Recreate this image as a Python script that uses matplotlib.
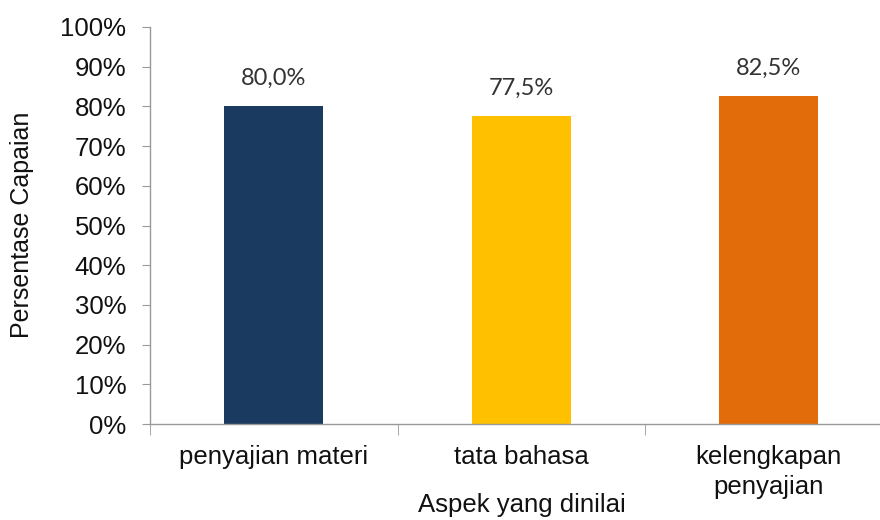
import matplotlib
matplotlib.use("Agg")
import matplotlib.pyplot as plt
from matplotlib.ticker import FixedLocator, PercentFormatter

categories = ["penyajian materi", "tata bahasa", "kelengkapan\npenyajian"]
values = [80.0, 77.5, 82.5]
colors = ["#1B3A5F", "#FFC000", "#E36C0A"]
value_labels = ["80,0%", "77,5%", "82,5%"]

plt.rcParams['font.family'] = ['Liberation Sans', 'DejaVu Sans']

fig = plt.figure(figsize=(8.8, 5.2), dpi=100)
ax = fig.add_axes([150/880, 96/520, 742.5/880, 397/520])

x = list(range(len(categories)))
bars = ax.bar(x, values, width=0.4, color=colors, zorder=2)
for xi, v, lab in zip(x, values, value_labels):
    ax.text(xi, v + 7, lab, ha='center', va='center', fontsize=17,
            color='#333333', family=['Lato', 'DejaVu Sans'])

ax.set_xlim(-0.5, len(categories) - 0.5)
ax.set_ylim(0, 100)
ax.set_yticks(range(0, 101, 10))
ax.yaxis.set_major_formatter(PercentFormatter(decimals=0))
ax.set_xticks(x)
ax.set_xticklabels(categories, fontsize=18.5, color='#111111', linespacing=1.3)
ax.xaxis.set_minor_locator(FixedLocator([-0.5, 0.5, 1.5, 2.5]))
ax.tick_params(axis='x', which='major', length=0, pad=15)
ax.tick_params(axis='x', which='minor', length=8, color='#999999')
ax.tick_params(axis='y', length=6, color='#999999', labelsize=18.5, labelcolor='#111111', pad=11)

for s in ['top', 'right']:
    ax.spines[s].set_visible(False)
for s in ['left', 'bottom']:
    ax.spines[s].set_color('#999999')
    ax.spines[s].set_linewidth(1)

fig.text(22/880, 1 - 225/520, "Persentase Capaian", ha='center', va='center',
         rotation=90, fontsize=18, color='#111111')
fig.text(522/880, 1 - 505/520, "Aspek yang dinilai", ha='center', va='center',
         fontsize=18.5, color='#111111')

fig.savefig("out.png", dpi=100)
